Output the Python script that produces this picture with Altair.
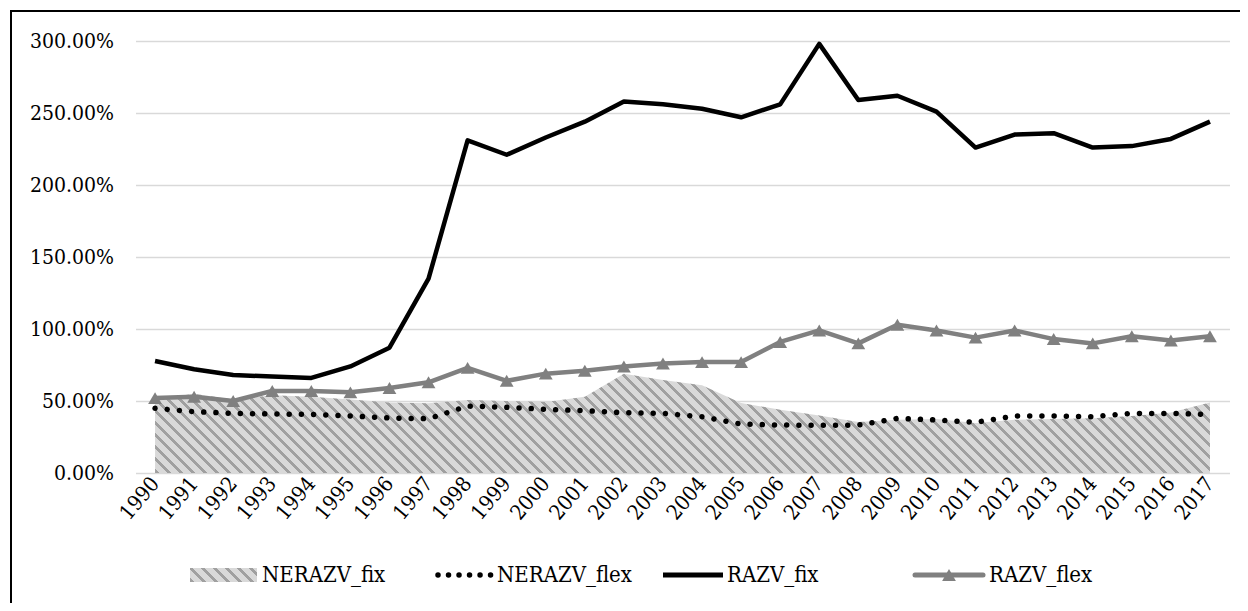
import altair as alt
import pandas as pd

# ---------------- data ----------------
years = [str(y) for y in range(1990, 2018)]
nerazv_fix = [51, 55, 51, 54, 53, 51, 49, 48.5, 50.7, 50, 49.3, 53, 69, 64.5,
              61, 48.6, 44, 40, 35.5, 37, 37.5, 34.7, 37, 37.5, 38, 39.5, 42, 49]
nerazv_flex = [44.9, 42.6, 41.4, 41, 40.7, 39.6, 38.2, 37.7, 46.5, 45.6, 44.2, 43.3,
               41.9, 41.4, 39.1, 34, 33.3, 33.1, 33.3, 37.9, 36.8, 35.2, 39.6, 39.6,
               39.1, 41.4, 41.4, 40.7]
razv_fix = [77.8, 72, 68, 67, 66, 74, 87, 135, 231, 221, 233, 244, 258, 256, 253,
            247, 256, 298, 259, 262, 251, 226, 235, 236, 226, 227, 232, 244]
razv_flex = [52, 53, 50, 57, 57, 56, 59, 63, 73, 64, 69, 71, 74, 76, 77, 77, 91,
             99, 90, 103, 99, 94, 99, 93, 90, 95, 92, 95]
y_ticks = [0, 50, 100, 150, 200, 250, 300]
legend_labels = ["NERAZV_fix", "NERAZV_flex", "RAZV_fix", "RAZV_flex"]

df = pd.DataFrame({
    "year": years,
    "NERAZV_fix": nerazv_fix,
    "NERAZV_flex": nerazv_flex,
    "RAZV_fix": razv_fix,
    "RAZV_flex": razv_flex,
})

# ---------------- layout / style ----------------
PLOT_W, PLOT_H = 1094, 432
PAD_L, PAD_T = 127.5, 33
PAD_R = 1232 - PAD_L - PLOT_W
PAD_B = 595 - PAD_T - PLOT_H
Y_MAX = 300
FONT = "DejaVu Serif Condensed"
FS = 21
LEG_FS = 22
LIGHT = "#d9d9d9"
DARK = "#a0a0a0"
GRAY = "#808080"


def stripes(w, h, period=12.0, frac=0.4):
    """Diagonal '\\' hatch as a linear gradient in bounding-box units."""
    r = h / w
    k = (1 + r) / (1 + r * r)
    n = (w + h) / period
    stops = []
    i = 0
    while i / n < 1:
        a = i / n
        b = min((i + frac) / n, 1.0)
        c = min((i + 1) / n, 1.0)
        stops += [
            alt.GradientStop(offset=a, color=DARK),
            alt.GradientStop(offset=b, color=DARK),
            alt.GradientStop(offset=b, color=LIGHT),
            alt.GradientStop(offset=c, color=LIGHT),
        ]
        i += 1
    return alt.LinearGradient(gradient="linear", stops=stops,
                              x1=0, y1=1, x2=k, y2=1 - k * r)


step = PLOT_W / len(years)
area_w = step * (len(years) - 1)
area_h = max(nerazv_fix) / Y_MAX * PLOT_H

x_enc = alt.X("year:O", scale=alt.Scale(type="point", padding=0.5),
              axis=alt.Axis(title=None))


def y_enc(field):
    return alt.Y(f"{field}:Q", scale=alt.Scale(domain=[0, Y_MAX], nice=False),
                 axis=alt.Axis(title=None, values=y_ticks,
                               labelExpr="format(datum.value, '.2f') + '%'"))


base = alt.Chart(df)

area = base.mark_area(fill=stripes(area_w, area_h), strokeWidth=0).encode(
    x=x_enc, y=y_enc("NERAZV_fix"))

dots = base.mark_line(color="black", strokeWidth=5.5, strokeCap="round",
                      strokeDash=[0.01, 12.2]).encode(
    x=x_enc, y=y_enc("NERAZV_flex"))

black = base.mark_line(color="black", strokeWidth=4.5, strokeJoin="round").encode(
    x=x_enc, y=y_enc("RAZV_fix"))

gray = base.mark_line(color=GRAY, strokeWidth=4.5, strokeJoin="round").encode(
    x=x_enc, y=y_enc("RAZV_flex"))

tri = base.mark_point(shape="triangle-up", filled=True, color=GRAY, size=190,
                      opacity=1).encode(x=x_enc, y=y_enc("RAZV_flex"))

# ---------------- legend (drawn by hand under the plot) ----------------
OX, OY = PAD_L + 8, PAD_T + 8     # page position of plot origin
LEG_Y = 575 - OY


def lx(px):
    return px - OX


def label(i, px):
    return alt.Chart(pd.DataFrame({"label": [legend_labels[i]]})).mark_text(
        align="left", baseline="middle", font=FONT, fontSize=LEG_FS, color="black"
    ).encode(x=alt.value(lx(px)), y=alt.value(LEG_Y), text="label:N")


one = pd.DataFrame({"k": [0]})
leg_rect = alt.Chart(one).mark_rect(fill=stripes(67, 14, period=12.0)).encode(
    x=alt.value(lx(190)), x2=alt.value(lx(257)),
    y=alt.value(LEG_Y - 7), y2=alt.value(LEG_Y + 7))
leg_dots = alt.Chart(one).mark_rule(color="black", strokeWidth=5.5, strokeCap="round",
                                    strokeDash=[0.01, 10.5]).encode(
    x=alt.value(lx(438)), x2=alt.value(lx(491)), y=alt.value(LEG_Y))
leg_black = alt.Chart(one).mark_rule(color="black", strokeWidth=5).encode(
    x=alt.value(lx(663)), x2=alt.value(lx(723)), y=alt.value(LEG_Y))
leg_gray = alt.Chart(one).mark_rule(color=GRAY, strokeWidth=5, strokeCap="round").encode(
    x=alt.value(lx(915)), x2=alt.value(lx(983)), y=alt.value(LEG_Y))
leg_tri = alt.Chart(one).mark_point(shape="triangle-up", filled=True, color=GRAY,
                                    size=190, opacity=1).encode(
    x=alt.value(lx(949)), y=alt.value(LEG_Y))

frame = alt.Chart(one).mark_rect(fillOpacity=0, stroke="black", strokeWidth=2).encode(
    x=alt.value(lx(11)), x2=alt.value(lx(1400)),
    y=alt.value(11 - OY), y2=alt.value(900))

chart = alt.layer(
    area, dots, black, gray, tri,
    leg_rect, label(0, 262),
    leg_dots, label(1, 497),
    leg_black, label(2, 727),
    leg_gray, leg_tri, label(3, 989),
    frame,
).properties(
    width=PLOT_W, height=PLOT_H,
    autosize=alt.AutoSizeParams(type="none"),
    padding={"left": PAD_L, "top": PAD_T, "right": PAD_R, "bottom": PAD_B},
).configure_view(
    strokeWidth=0
).configure_axis(
    labelFont=FONT, labelFontSize=FS, labelColor="black",
    ticks=False, domain=False,
).configure_axisX(
    grid=False, labelAngle=-50, labelAlign="right", labelBaseline="middle",
    labelPadding=7,
).configure_axisY(
    grid=True, gridColor=LIGHT, gridWidth=1.5, labelPadding=22,
)

chart.save("out.html", embed_options={"renderer": "svg", "actions": False})
